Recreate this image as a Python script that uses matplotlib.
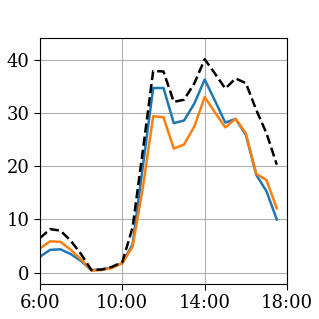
import matplotlib
matplotlib.use("Agg")
import matplotlib.pyplot as plt
import numpy as np

hours = [6.0, 6.5, 7.0, 7.5, 8.0, 8.5, 9.0, 9.5, 10.0, 10.5, 11.0, 11.5,
         12.0, 12.5, 13.0, 13.5, 14.0, 14.5, 15.0, 15.5, 16.0, 16.5, 17.0, 17.5]
blue = [3.0, 4.3, 4.4, 3.5, 2.2, 0.5, 0.6, 1.0, 1.8, 5.3, 20.0, 34.7,
        34.7, 28.1, 28.6, 31.8, 36.3, 32.3, 28.2, 28.9, 25.9, 18.4, 15.3, 10.0]
orange = [4.6, 5.9, 5.8, 4.3, 2.5, 0.4, 0.5, 0.9, 1.8, 4.9, 16.0, 29.4,
          29.2, 23.3, 24.1, 27.5, 33.0, 30.1, 27.3, 28.9, 26.2, 18.6, 17.4, 12.1]
black = [6.5, 8.2, 7.9, 6.0, 3.5, 0.5, 0.6, 1.1, 2.0, 8.5, 23.0, 37.9,
         37.8, 32.1, 32.5, 35.6, 40.1, 37.4, 34.6, 36.5, 35.6, 30.6, 26.2, 20.3]
xticks = [6, 10, 14, 18]
xticklabels = ["6:00", "10:00", "14:00", "18:00"]
yticks = [0, 10, 20, 30, 40]

plt.rcParams['font.family'] = 'DejaVu Serif'
fig = plt.figure(figsize=(3.19, 3.19), dpi=100)
ax = fig.add_axes([0.125, 0.11, 0.775, 0.771])
ax.plot(hours, blue, color='tab:blue', lw=1.8)
ax.plot(hours, orange, color='tab:orange', lw=1.8)
ax.plot(hours, black, color='black', lw=1.8, ls='--')
ax.set_xlim(6, 18)
ax.set_ylim(-2.1, 44.1)
ax.set_xticks(xticks)
ax.set_xticklabels(xticklabels)
ax.set_yticks(yticks)
ax.grid(True, color='#b0b0b0', lw=0.8)
ax.tick_params(labelsize=13, length=4)
fig.savefig("out.png", dpi=100)
